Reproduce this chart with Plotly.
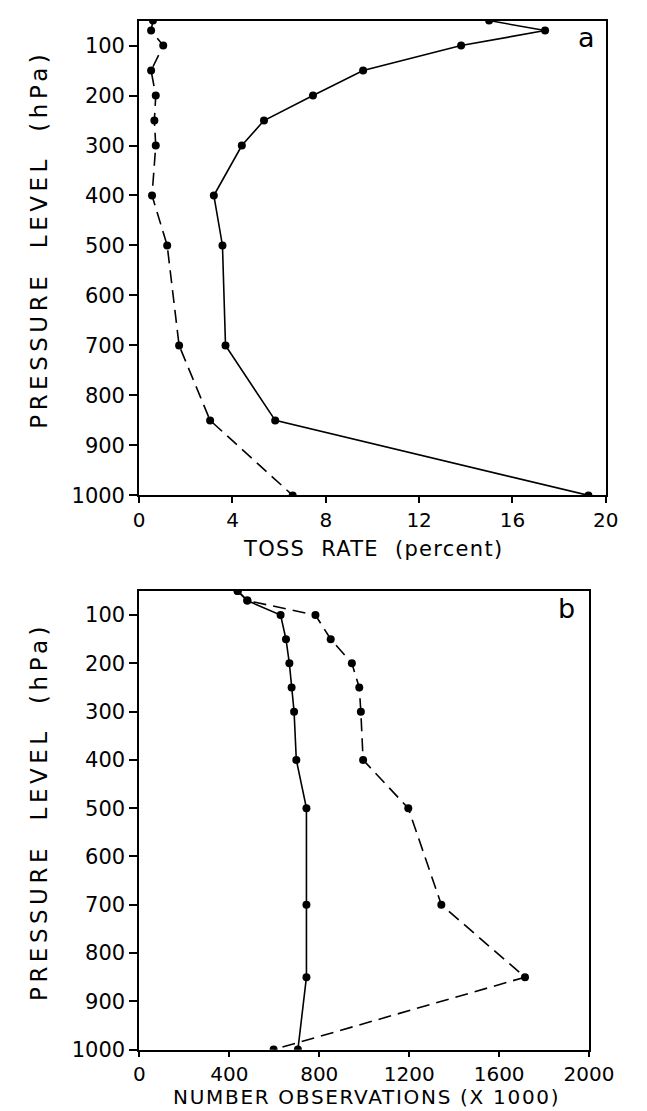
import plotly.graph_objects as go

levels = [50, 70, 100, 150, 200, 250, 300, 400, 500, 700, 850, 1000]
toss_solid = [15.0, 17.4, 13.8, 9.6, 7.45, 5.35, 4.4, 3.2, 3.57, 3.7, 5.83, 19.26]
toss_dashed = [0.59, 0.51, 1.03, 0.51, 0.71, 0.65, 0.71, 0.55, 1.2, 1.71, 3.04, 6.58]
obs_solid = [437, 480, 628, 652, 667, 677, 688, 698, 743, 743, 743, 705]
obs_dashed = [437, 480, 783, 851, 945, 978, 985, 995, 1196, 1343, 1715, 597]
p_ticks = [100, 200, 300, 400, 500, 600, 700, 800, 900, 1000]
toss_ticks = [0, 4, 8, 12, 16, 20]
obs_ticks = [0, 400, 800, 1200, 1600, 2000]

W, H = 647, 1111
FONT = "DejaVu Sans"
BLACK = "#000000"

def px_x(p):
    return p / W

def px_y(p):
    return (H - p) / H

fig = go.Figure()

line_kw = dict(mode="lines+markers", marker=dict(size=8, color=BLACK),
               showlegend=False, hoverinfo="x+y")
DASH = "13px,7px"

fig.add_trace(go.Scatter(x=toss_solid, y=levels, xaxis="x", yaxis="y",
                         line=dict(color=BLACK, width=1.6), **line_kw))
fig.add_trace(go.Scatter(x=toss_dashed, y=levels, xaxis="x", yaxis="y",
                         line=dict(color=BLACK, width=1.6, dash=DASH), **line_kw))
fig.add_trace(go.Scatter(x=obs_solid, y=levels, xaxis="x2", yaxis="y2",
                         line=dict(color=BLACK, width=1.6), **line_kw))
fig.add_trace(go.Scatter(x=obs_dashed, y=levels, xaxis="x2", yaxis="y2",
                         line=dict(color=BLACK, width=1.6, dash=DASH), **line_kw))

ax_common = dict(showgrid=False, zeroline=False, showline=True, linecolor=BLACK,
                 linewidth=2, mirror=True, ticks="outside", tickwidth=1.5,
                 tickcolor=BLACK)

fig.update_layout(
    width=W, height=H,
    margin=dict(l=0, r=0, t=0, b=0),
    paper_bgcolor="white", plot_bgcolor="white",
    xaxis=dict(domain=[px_x(131.5), px_x(621.5)], range=[0, 20], tickvals=toss_ticks,
               anchor="y", ticklen=6, tickfont=dict(family=FONT, size=20, color=BLACK),
               **ax_common),
    yaxis=dict(domain=[px_y(492.7), px_y(12.7)], range=[1000, 50], tickvals=p_ticks,
               anchor="x", ticklen=8, tickfont=dict(family=FONT, size=21, color=BLACK),
               **ax_common),
    xaxis2=dict(domain=[px_x(131.7), px_x(604)], range=[0, 2000], tickvals=obs_ticks,
                anchor="y2", ticklen=5, tickfont=dict(family=FONT, size=20, color=BLACK),
                **ax_common),
    yaxis2=dict(domain=[px_y(1053), px_y(589.3)], range=[1000, 50], tickvals=p_ticks,
                anchor="x2", ticklen=8, tickfont=dict(family=FONT, size=21, color=BLACK),
                **ax_common),
)

def spaced(txt, ls):
    return '<span style="letter-spacing:%spx">%s</span>' % (ls, txt)

NB = "\u00a0"
ytitle = "PRESSURE" + NB + NB + "LEVEL" + NB + NB + "(hPa)"
annos = [
    dict(text=spaced(ytitle, 4.5), x=px_x(26), y=px_y(233.5), textangle=-90,
         font=dict(family=FONT, size=23, color=BLACK)),
    dict(text=spaced(ytitle, 4.5), x=px_x(26), y=px_y(812), textangle=-90,
         font=dict(family=FONT, size=23, color=BLACK)),
    dict(text=spaced("TOSS" + NB + NB + "RATE" + NB + NB + "(percent)", 1.3),
         x=px_x(377), y=px_y(533), yanchor="top",
         font=dict(family=FONT, size=21, color=BLACK)),
    dict(text=spaced("NUMBER" + NB + "OBSERVATIONS" + NB + "(X" + NB + "1000)", 1.7),
         x=px_x(370), y=px_y(1087), yanchor="top",
         font=dict(family=FONT, size=20, color=BLACK)),
    dict(text="a", x=px_x(601), y=px_y(30), font=dict(family=FONT, size=27, color=BLACK)),
    dict(text="b", x=px_x(580), y=px_y(607), font=dict(family=FONT, size=27, color=BLACK)),
]
for a in annos:
    a.setdefault("xref", "paper")
    a.setdefault("yref", "paper")
    a.setdefault("showarrow", False)
    a.setdefault("xanchor", "center")
    a.setdefault("yanchor", "middle")
fig.update_layout(annotations=annos)

fig.write_html("out.html")
